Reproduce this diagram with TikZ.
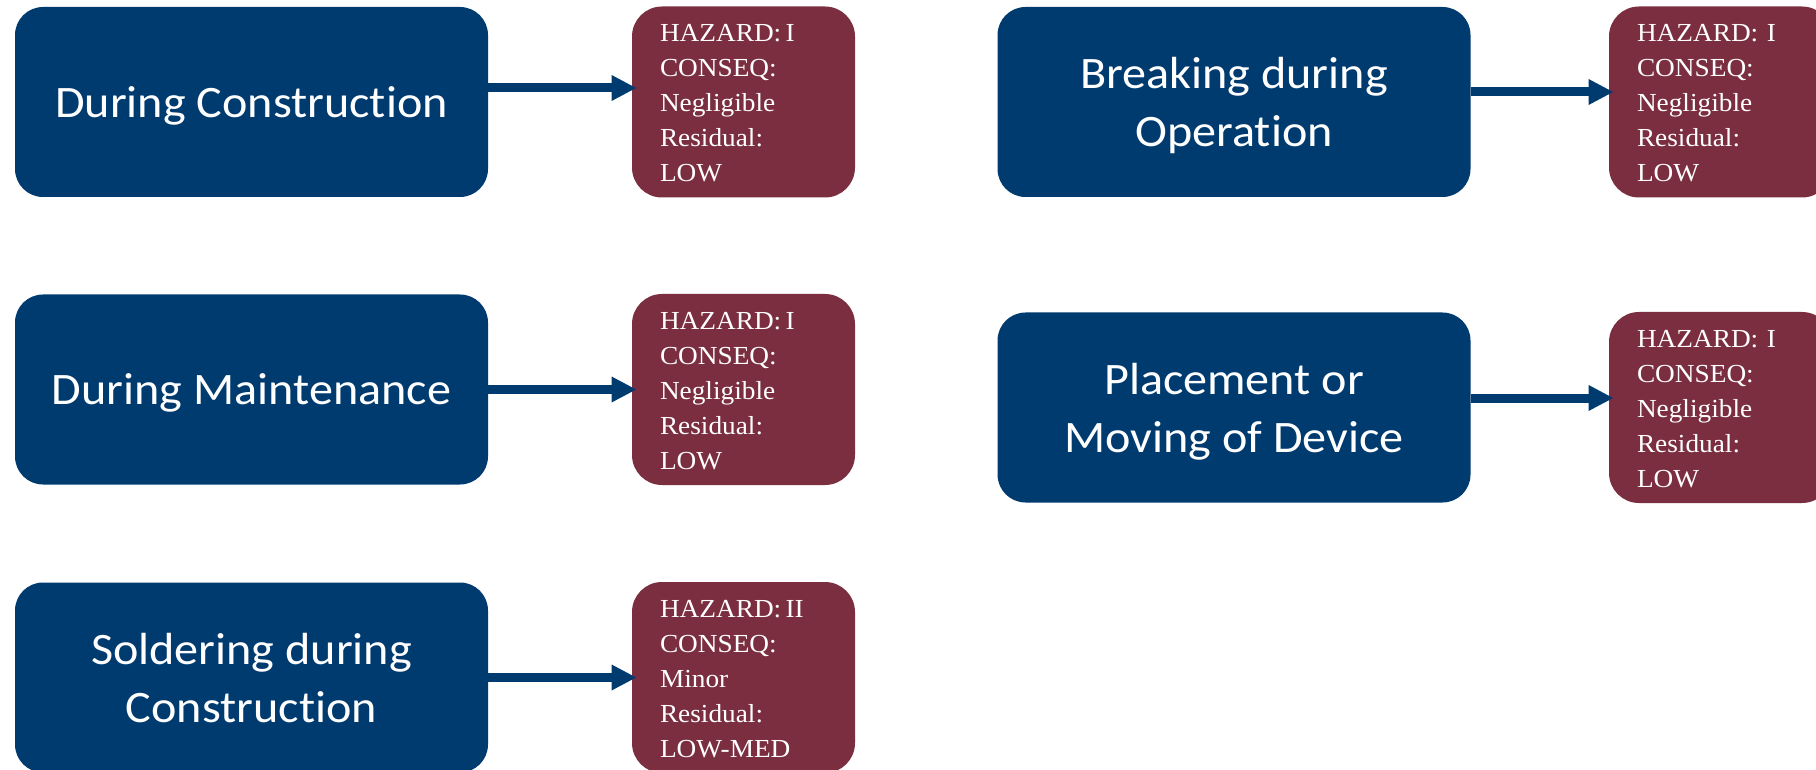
\documentclass[tikz,border=0pt]{standalone}
\usepackage{fontspec}
\setmainfont[FakeStretch=1.05]{Liberation Serif}
\newfontfamily\calibri[FakeStretch=1.07,Ligatures=NoCommon]{Carlito}
\usetikzlibrary{arrows.meta}
\usetikzlibrary{positioning}

\definecolor{causeblue}{RGB}{0,59,112}
\definecolor{riskred}{RGB}{122,46,64}

\begin{document}
\begin{tikzpicture}[x=0.5pt, y=-0.5pt,
    cause/.style={fill=causeblue, rounded corners=14pt, minimum width=236.5pt,
      minimum height=95pt, text=white, align=center, text depth=0pt,
      font=\calibri\fontsize{22.5}{29}\selectfont},
    risk/.style={fill=riskred, rounded corners=15pt, minimum height=95.5pt,
      inner xsep=14pt, text width=83.5pt, text=white, align=left,
      text height=10pt, text depth=70pt,
      font=\fontsize{13}{17.5}\selectfont},
    link/.style={-{Triangle[length=12.5pt,width=12pt]}, line width=4.5pt,
      causeblue, shorten >=-2.5pt}]
      \clip (0, 0) rectangle (1816, 770);

      % left column
      \node[cause] (construct) at (251.5, 102)   {During Construction};
      \node[cause] (maintain)  at (251.5, 389.5) {During Maintenance};
      \node[cause] (solder)    at (251.5, 677.5) {Soldering during\\Construction};

      \node[risk] (constructrisk) at (743.5, 102)
        {HAZARD:\,I\\CONSEQ:\\Negligible\\Residual:\\LOW};
      \node[risk] (maintainrisk)  at (743.5, 389.5)
        {HAZARD:\,I\\CONSEQ:\\Negligible\\Residual:\\LOW};
      \node[risk] (solderrisk)    at (743.5, 677.5)
        {HAZARD:\,II\\CONSEQ:\\Minor\\Residual:\\LOW-MED};

      % right column
      \node[cause] (breaking) at (1234, 102)   {Breaking during\\Operation};
      \node[cause] (moving)   at (1234, 407.5) {Placement or\\Moving of Device};

      \node[risk] (breakingrisk) at (1720.5, 102)
        {HAZARD: I\\CONSEQ:\\Negligible\\Residual:\\LOW};
      \node[risk] (movingrisk)   at (1720.5, 407.5)
        {HAZARD: I\\CONSEQ:\\Negligible\\Residual:\\LOW};

      \draw[link] ([yshift=7pt]construct.east) -- ([yshift=7pt]constructrisk.west);
      \draw[link] (maintain) -- (maintainrisk);
      \draw[link] (solder) -- (solderrisk);
      \draw[link] ([yshift=5pt]breaking.east) -- ([yshift=5pt]breakingrisk.west);
      \draw[link] ([yshift=4.75pt]moving.east) -- ([yshift=4.75pt]movingrisk.west);
    \end{tikzpicture}
\end{document}
